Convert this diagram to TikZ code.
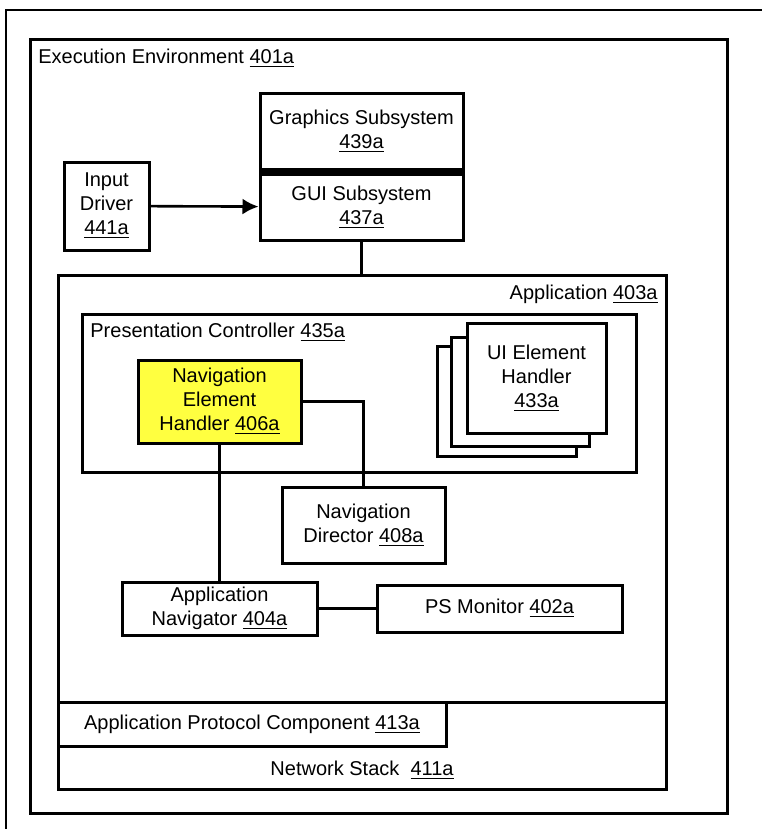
\documentclass[tikz,border=0pt]{standalone}
\usepackage{fontspec}
\setmainfont{Liberation Sans}
\usepackage{tikz}
\usetikzlibrary{positioning}
\usetikzlibrary{arrows,arrows.meta,shapes}
\usetikzlibrary{calc}
\definecolor{navyellow}{RGB}{255,255,64}
\newcommand{\refnum}[1]{\underline{#1}}
\tikzstyle{block}=[rectangle,draw=black,line width=1.5pt,fill=white,align=center,inner sep=0pt,font=\fontsize{10}{12}\selectfont]
\tikzstyle{container}=[rectangle,draw=black,line width=1.5pt,inner sep=0pt]
\tikzstyle{caption}=[inner sep=0pt,font=\fontsize{10}{12}\selectfont]
\tikzstyle{edge} = [draw,line width=1.3pt,-{Latex[length=8pt,width=8pt]}]
\tikzstyle{undirectededge} = [draw,line width=1.3pt]

\begin{document}
\begin{tikzpicture}[x=0.5pt,y=-0.5pt]
    \useasboundingbox (0,0) rectangle (762,829);
    % Outer frame (cut at right and bottom)
    \draw[line width=1pt] (6,829) -- (6,10) -- (762,10);

    % First we draw the containers
    \node[container, minimum width=348.5pt, minimum height=386.5pt] (env) at (378.5,426.5) {};
    \node[caption, anchor=west] (envlabel) at (38,58) {Execution Environment \refnum{401a}};
    \node[container, minimum width=304pt, minimum height=43.5pt] (netstack) at (362,745.5) {};
    \node[caption] (netlabel) at (362,770) {Network Stack\ \ \refnum{411a}};
    \node[container, minimum width=304pt, minimum height=213.5pt] (app) at (362,488.5) {};
    \node[caption, anchor=east] (applabel) at (658,294) {Application \refnum{403a}};
    \node[container, minimum width=277pt, minimum height=79pt] (pres) at (359,393) {};
    \node[caption, anchor=west] (preslabel) at (90,332) {Presentation Controller \refnum{435a}};

    % Then the blocks
    \foreach \pos/\name/\w/\h/\label in {
        {(361.5,131.5)/gfx/101.5pt/37.5pt/{Graphics Subsystem\\ \refnum{439a}}},
        {(361.5,207)/gui/101.5pt/33pt/{GUI Subsystem\\ \refnum{437a}}},
        {(106.5,206)/input/42.5pt/44pt/{Input\\ Driver\\ \refnum{441a}}},
        {(506.5,401)/ui3/69.5pt/55pt/{}},
        {(520,391.5)/ui2/69pt/54.5pt/{}},
        {(536.5,378)/ui1/69.5pt/55pt/{UI Element\\ Handler\\ \refnum{433a}}},
        {(363.5,525)/navdir/81.5pt/38pt/{Navigation\\ Director \refnum{408a}}},
        {(219.5,608.5)/appnav/97.5pt/26.5pt/{Application\\ Navigator \refnum{404a}}},
        {(499.5,608.5)/psmon/122.5pt/23.5pt/{PS Monitor \refnum{402a}}},
        {(252,724)/apc/194pt/22pt/{Application Protocol Component \refnum{413a}}}}
        \node[block, minimum width=\w, minimum height=\h] (\name) at \pos {\label};
    % thick seam between graphics and GUI
    \fill (gfx.south west) rectangle (gui.north east);

    \node[block, fill=navyellow, minimum width=81.5pt, minimum height=41.5pt] (neh) at (219.5,401.5) {Navigation\\ Element\\ Handler \refnum{406a}};

    % Connect blocks
    \path[edge] (input) -- (gui);
    \path[undirectededge] (gui.south) -- (gui.south |- app.north);
    \path[undirectededge] (neh.east) -| (navdir.north);
    \foreach \source/ \dest in {neh/appnav}
        \path[undirectededge] (\source.south) -- (\dest.north);
    \path[undirectededge] (appnav) -- (psmon);
\end{tikzpicture}
\end{document}
